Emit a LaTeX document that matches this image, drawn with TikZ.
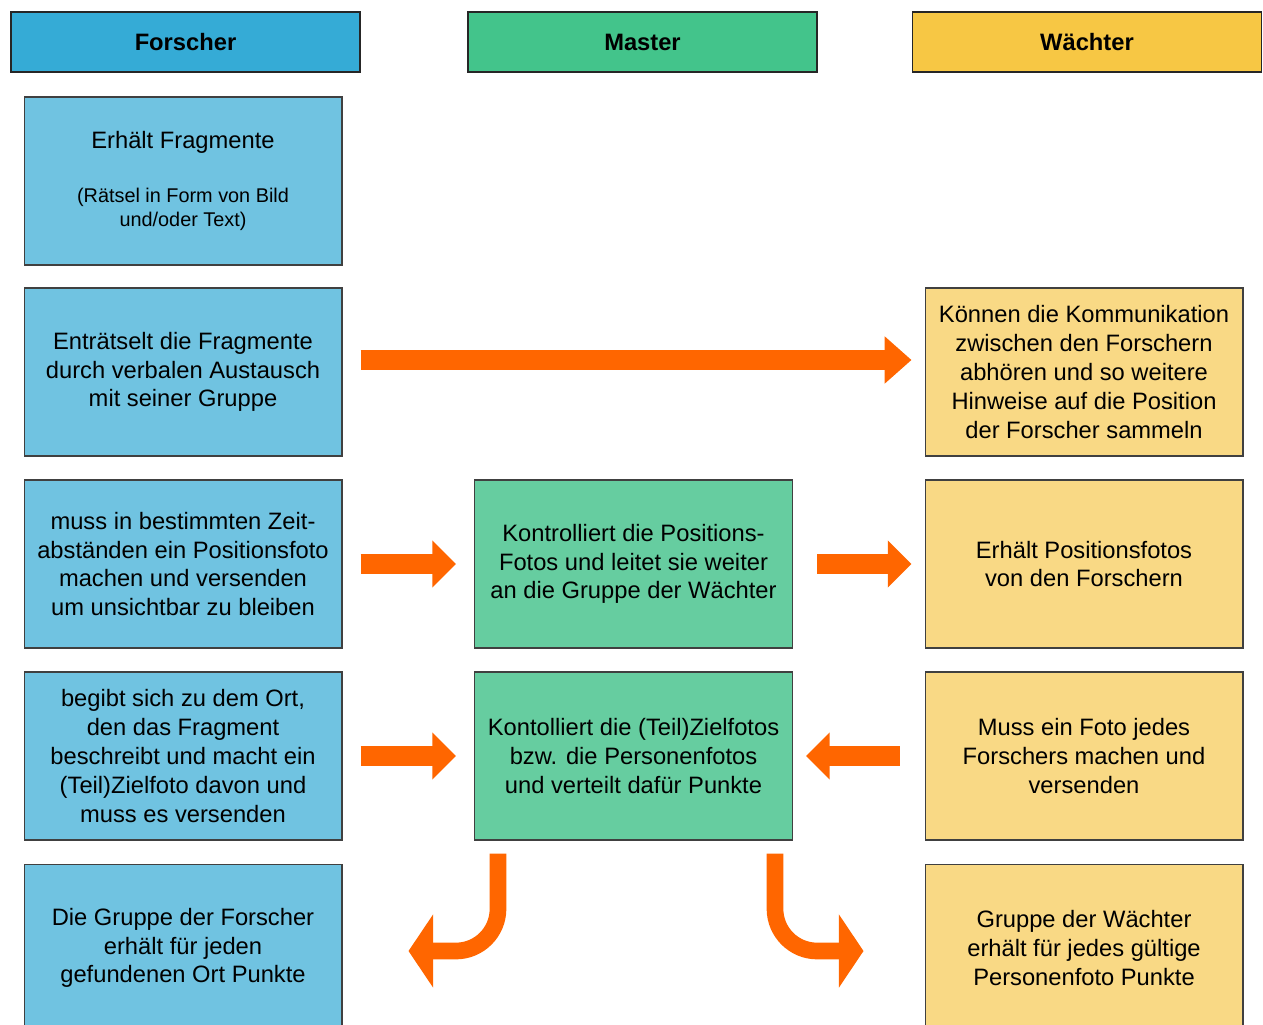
\documentclass[tikz,border=0pt]{standalone}
\usepackage{fontspec}
\setmainfont{Liberation Sans}
\usepackage{tikz}
\usetikzlibrary{arrows.meta}
\usepackage{xcolor}
\definecolor{hdrblue}{HTML}{35ABD6}
\definecolor{boxblue}{HTML}{70C3E1}
\definecolor{hdrgreen}{HTML}{43C48B}
\definecolor{boxgreen}{HTML}{66CDA0}
\definecolor{hdryellow}{HTML}{F7C744}
\definecolor{boxyellow}{HTML}{F9D985}
\definecolor{arroworange}{HTML}{FF6600}
\newcommand{\smalltxt}{\fontsize{11.3}{13.6}\selectfont}

\begin{document}
\begin{tikzpicture}[x=0.02cm, y=-0.02cm,
    hdr/.style={draw=black!85, line width=0.7pt, minimum width=6.98cm, minimum height=1.2cm,
      font=\fontsize{13.5}{16.4}\selectfont\bfseries},
    card/.style={draw=black!75, line width=0.6pt, minimum width=6.36cm, minimum height=3.36cm,
      align=center, inner sep=0pt, font=\fontsize{13.5}{16.4}\selectfont},
    fat/.style={arroworange, line width=11.8pt, -{Triangle[length=13.5pt,width=26pt]}},
    bent/.style={arroworange, line width=9.5pt, rounded corners=24pt,
      -{Triangle[length=14pt,width=41pt]}}]
  \path[use as bounding box, clip] (0,0) rectangle (1263,1024);
  \node[hdr, fill=hdrblue] (forscher) at (185.5,42) {Forscher};
  \node[hdr, fill=hdrgreen] (master) at (642.5,42) {Master};
  \node[hdr, fill=hdryellow] (waechter) at (1087,42) {Wächter};

  \node[card, fill=boxblue] (f1) at (183,181) {Erhält Fragmente\\[14.3pt]
    {\smalltxt (Rätsel in Form von Bild}\\[-2.4pt]{\smalltxt und/oder Text)}};
  \node[card, fill=boxblue] (f2) at (183,372) {Enträtselt die Fragmente\\durch verbalen Austausch\\mit seiner Gruppe};
  \node[card, fill=boxblue] (f3) at (183,564) {muss in bestimmten Zeit-\\abständen ein Positionsfoto\\machen und versenden\\um unsichtbar zu bleiben};
  \node[card, fill=boxblue] (f4) at (183,756) {begibt sich zu dem Ort,\\den das Fragment\\beschreibt und macht ein\\(Teil)Zielfoto davon und\\muss es versenden};
  \node[card, fill=boxblue] (f5) at (183,948) {Die Gruppe der Forscher\\erhält für jeden\\gefundenen Ort Punkte};

  \node[card, fill=boxgreen] (m3) at (633.5,564) {Kontrolliert die Positions-\\Fotos und leitet sie weiter\\an die Gruppe der Wächter};
  \node[card, fill=boxgreen] (m4) at (633.5,756) {Kontolliert die (Teil)Zielfotos\\bzw. die Personenfotos\\und verteilt dafür Punkte};

  \node[card, fill=boxyellow] (w2) at (1084,372) {Können die Kommunikation\\zwischen den Forschern\\abhören und so weitere\\Hinweise auf die Position\\der Forscher sammeln};
  \node[card, fill=boxyellow] (w3) at (1084,564) {Erhält Positionsfotos\\von den Forschern};
  \node[card, fill=boxyellow] (w4) at (1084,756) {Muss ein Foto jedes\\Forschers machen und\\versenden};
  \node[card, fill=boxyellow] (w5) at (1084,948) {Gruppe der Wächter\\erhält für jedes gültige\\Personenfoto Punkte};

  \draw[fat, line width=11.3pt, -{Triangle[length=15.3pt,width=26pt]}]
    ([shift={(18,-12)}]f2.east) -- ([shift={(-13,-12)}]w2.west);
  \draw[fat] ([xshift=18*0.02cm]f3.east) -- ([xshift=-18*0.02cm]m3.west);
  \draw[fat] ([xshift=24*0.02cm]m3.east) -- ([xshift=-13*0.02cm]w3.west);
  \draw[fat] ([xshift=18*0.02cm]f4.east) -- ([xshift=-18*0.02cm]m4.west);
  \draw[fat, line width=11.3pt] ([xshift=-25*0.02cm]w4.west) -- ([xshift=13*0.02cm]m4.east);
  \draw[bent] ([shift={(24,13)}]m4.south west) |- ([shift={(66,3)}]f5.east);
  \draw[bent] ([shift={(-18,13)}]m4.south east) |- ([shift={(-61,3)}]w5.west);
\end{tikzpicture}
\end{document}
